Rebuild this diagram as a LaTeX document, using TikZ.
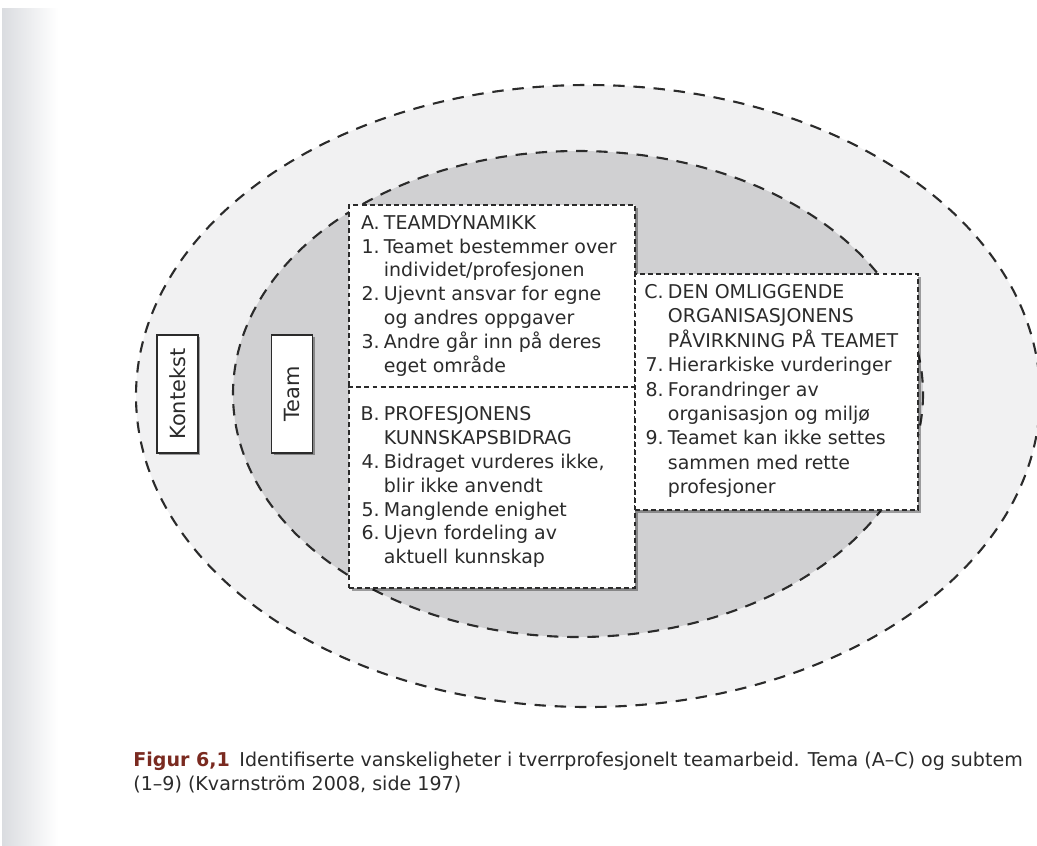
\documentclass[tikz,border=0pt]{standalone}
\usepackage{fontspec}
\setmainfont{DejaVu Sans}
\usetikzlibrary{positioning, fit, shadows}

\definecolor{inkgray}{HTML}{2B2B2B}
\definecolor{ringgray}{HTML}{F1F1F2}
\definecolor{teamgray}{HTML}{D0D0D2}
\definecolor{figred}{HTML}{7A2A20}
\definecolor{bindgray}{HTML}{DADCE0}

% nummer foran hvert punkt, hoyrejustert
\newcommand{\nr}[1]{\makebox[1.55em][r]{#1}\hspace{0.22em}}

\tikzset{
    ring/.style={draw=inkgray, line width=1.2pt, dash pattern=on 6.5pt off 5pt},
    panel/.style={draw=inkgray, fill=white, line width=0.8pt,
        dash pattern=on 2.8pt off 1.8pt, inner sep=0pt,
        drop shadow={shadow xshift=1.6pt, shadow yshift=-1.6pt, fill=black, opacity=0.35}},
    splitline/.style={draw=inkgray, line width=0.8pt, dash pattern=on 2.8pt off 1.8pt},
    paneltext/.style={anchor=north west, inner sep=0pt, align=left, text=inkgray,
        font=\fontsize{10.8}{13.6}\selectfont},
    levelbox/.style={draw=inkgray, fill=white, line width=0.9pt, rotate=90,
        minimum width=2.36cm, minimum height=0.82cm, inner sep=0pt, text=inkgray,
        font=\fontsize{11.9}{14}\selectfont,
        drop shadow={shadow xshift=1.4pt, shadow yshift=-1.4pt, fill=black, opacity=0.35}},
    captext/.style={anchor=base west, inner sep=0pt, text=inkgray,
        font=\fontsize{10.85}{13.5}\selectfont}
}

\begin{document}
\begin{tikzpicture}[x=0.02cm, y=-0.02cm]
\useasboundingbox (0,0) rectangle (1037,845);

% skygge fra innbindingen
\shade[left color=bindgray, right color=white] (2,8) rectangle (58,845);

% kontekst og team
\draw[ring, fill=ringgray] (588,396) ellipse [x radius=452, y radius=311];
\draw[ring, fill=teamgray] (578,394) ellipse [x radius=345, y radius=243];

\node[levelbox] (kontekst) at (177.5,394) {Kontekst};
\node[levelbox] (team) at (292,394) {Team};

% tema A og B
\node[panel, fit={(349,205) (635,588)}] (boxA) {};
\coordinate (split) at (0,387);
\draw[splitline] (boxA.west |- split) -- (boxA.east |- split);

% tema C
\node[panel, fit={(635,274) (918,510)}] (boxC) {};

\node[paneltext] (themeA) at (350,215) {%
    \nr{A.}TEAMDYNAMIKK\\
    \nr{1.}Teamet bestemmer over\\
    \nr{}individet/profesjonen\\
    \nr{2.}Ujevnt ansvar for egne\\
    \nr{}og andres oppgaver\\
    \nr{3.}Andre går inn på deres\\
    \nr{}eget område};

\node[paneltext] (themeB) at (350,406) {%
    \nr{B.}PROFESJONENS\\
    \nr{}KUNNSKAPSBIDRAG\\
    \nr{4.}Bidraget vurderes ikke,\\
    \nr{}blir ikke anvendt\\
    \nr{5.}Manglende enighet\\
    \nr{6.}Ujevn fordeling av\\
    \nr{}aktuell kunnskap};

\node[paneltext, font=\fontsize{10.8}{13.9}\selectfont] (themeC) at (634,284) {%
    \nr{C.}DEN OMLIGGENDE\\
    \nr{}ORGANISASJONENS\\
    \nr{}PÅVIRKNING PÅ TEAMET\\
    \nr{7.}Hierarkiske vurderinger\\
    \nr{8.}Forandringer av\\
    \nr{}organisasjon og miljø\\
    \nr{9.}Teamet kan ikke settes\\
    \nr{}sammen med rette\\
    \nr{}profesjoner};

% figurtekst
\node[captext] (caption1) at (133,766) {{\bfseries\color{figred}Figur 6,1}\hspace{0.5em}Identifiserte vanskeligheter i tverrprofesjonelt teamarbeid. Tema (A–C) og subtem};
\node[captext] (caption2) at (133,790) {(1–9) (Kvarnström 2008, side 197)};

\end{tikzpicture}
\end{document}
